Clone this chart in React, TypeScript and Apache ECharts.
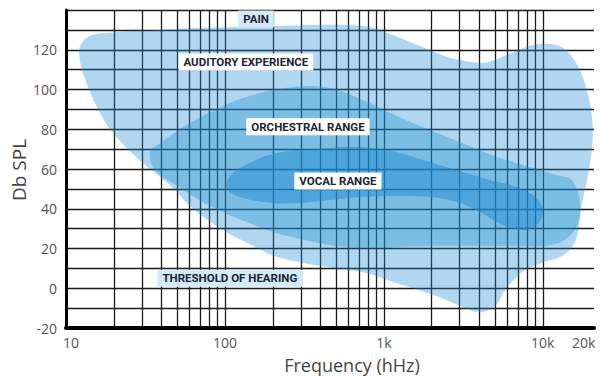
import React, { useEffect, useRef } from 'react';
import * as echarts from 'echarts';

// X axis (log) labels and vertical grid frequencies
const xLabelValues = [10, 100, 1000, 10000, 20000];
const gridFreqs = [10, 20, 30, 40, 50, 60, 70, 80, 90, 100, 200, 300, 400, 500, 600, 700, 800, 900,
  1000, 2000, 3000, 4000, 5000, 6000, 7000, 8000, 9000, 10000];
const yLabelValues = [-20, 0, 20, 40, 60, 80, 100, 120];
const xAxisTitle = 'Frequency (hHz)';
const yAxisTitle = 'Db SPL';

// Auditory experience outline (Hz, dB)
const auditoryFreq = [12.3, 14.2, 18.9, 29, 70, 222, 530, 820, 1170, 1680, 2490, 3470, 4320, 5600, 8280,
  10600, 13400, 16600, 19200, 20600, 20000, 17600, 16100, 13400, 10000, 7700, 5900, 5000, 4000, 3140,
  2250, 1260, 740, 460, 300, 200, 137, 103, 63, 45, 30.5, 19.8, 15.7, 13.2, 12.2];
const auditoryDb = [122, 127, 128.5, 129.5, 131, 132, 132.5, 131.5, 127, 122, 116.5, 114, 113.5, 116.5, 122,
  123, 121, 112, 98, 82, 64.5, 42, 24, 16.5, 13, 9, 0, -9, -12, -9.5,
  -4.5, 2, 8, 10.5, 13, 16.5, 23, 28, 40, 52, 63, 78, 91, 105, 115];

// Orchestral range outline
const orchestralFreq = [33.7, 39, 63, 130, 268, 458, 738, 1207, 1946, 3140, 5140, 8280, 12240, 15200, 17100,
  16600, 13750, 10300, 5370, 1946, 738, 457, 296, 200, 137, 80.5, 50, 36.3];
const orchestralDb = [68.6, 73, 84, 95.7, 101.3, 100.8, 94.7, 86.7, 79.6, 73, 66, 61, 57, 54.5, 44.4,
  32.3, 24.3, 21.3, 21.3, 21.3, 20.3, 21.8, 24.8, 28.3, 33.3, 41.4, 51.4, 59.5];

// Vocal range outline
const vocalFreq = [104, 124, 212, 457, 738, 1207, 1946, 3140, 4645, 6860, 9160, 10000, 9160, 7480, 5600,
  4018, 2877, 1946, 1207, 738, 457, 296, 200, 130, 104];
const vocalDb = [54.5, 60.5, 68, 70.6, 71, 68.6, 63.5, 58.5, 54.5, 51, 45.4, 38.4, 31.8, 29.3, 31.8,
  38.4, 43.4, 45.9, 46.4, 45.9, 44.4, 42.9, 42.9, 45.4, 49.4];

// Region labels
const labelTexts = ['PAIN', 'AUDITORY EXPERIENCE', 'ORCHESTRAL RANGE', 'VOCAL RANGE', 'THRESHOLD OF HEARING'];
const labelFreq = [157, 135.5, 333, 514, 107.4];
const labelDb = [135.5, 113.8, 81.2, 54, 5];

const highlighted = new Set(['PAIN', 'THRESHOLD OF HEARING']);

export default function App() {
  const ref = useRef<HTMLDivElement>(null);

  useEffect(() => {
    if (!ref.current) return;
    const chart = echarts.init(ref.current, undefined, { renderer: 'svg' });

    const shapeList = [
      { freq: auditoryFreq, db: auditoryDb, alpha: 0.35 },
      { freq: orchestralFreq, db: orchestralDb, alpha: 0.35 },
      { freq: vocalFreq, db: vocalDb, alpha: 0.48 },
    ];

    const fmtX = (v: number) => {
      const t = v >= 1000 ? `${Math.round(v / 1000)}k` : `${v}`;
      if (v === 10) return `{first|${t}}`;
      if (v === 20000) return `{last|${t}}`;
      return t;
    };

    const tickFont = { fontFamily: 'Open Sans', fontSize: 14, color: '#555' };
    const titleStyle = { fontFamily: 'Open Sans', fontSize: 18, fill: '#444', align: 'center', verticalAlign: 'middle' };

    chart.setOption({
      animation: false,
      grid: { left: 66, right: 6, top: 10, bottom: 49, outerBoundsMode: 'none', containLabel: false },
      graphic: [
        { type: 'text', x: 352, y: 365, style: { ...titleStyle, text: xAxisTitle } },
        { type: 'text', x: 19, y: 170, rotation: Math.PI / 2, style: { ...titleStyle, fontSize: 19, text: yAxisTitle } },
      ],
      xAxis: {
        type: 'log',
        logBase: 10,
        min: 10,
        max: 21000,
        axisLine: { show: true, onZero: false, lineStyle: { color: '#000', width: 4 } },
        axisTick: { show: false, customValues: gridFreqs },
        axisLabel: {
          customValues: xLabelValues,
          formatter: fmtX,
          ...tickFont,
          margin: 7,
          rich: {
            first: { ...tickFont, padding: [0, 0, 0, 10] },
            last: { ...tickFont, padding: [0, 14, 0, 0] },
          },
        },
        splitLine: { show: true, customValues: gridFreqs, lineStyle: { color: '#1a1a1a', width: 1.3 } },
      },
      yAxis: {
        type: 'value',
        min: -20,
        max: 140,
        interval: 10,
        axisLine: { show: true, onZero: false, lineStyle: { color: '#000', width: 3 } },
        axisTick: { show: false },
        axisLabel: {
          customValues: yLabelValues,
          ...tickFont,
          margin: 9,
        },
        splitLine: { show: true, lineStyle: { color: '#1a1a1a', width: 1.3 } },
      },
      series: [
        {
          type: 'custom',
          z: 3,
          data: shapeList.map((s) => [s.freq[0], s.db[0]]),
          renderItem: (params: any, api: any) => {
            const s = shapeList[params.dataIndex];
            const pts = s.freq.map((f, i) => api.coord([f, s.db[i]]));
            return {
              type: 'polygon',
              shape: { points: pts, smooth: 0.35 },
              style: { fill: `rgba(30,140,210,${s.alpha})` },
            };
          },
        },
        {
          type: 'custom',
          z: 5,
          data: labelFreq.map((f, i) => [f, labelDb[i]]),
          renderItem: (params: any, api: any) => {
            const i = params.dataIndex;
            const p = api.coord([labelFreq[i], labelDb[i]]);
            const text = labelTexts[i];
            return {
              type: 'text',
              x: p[0],
              y: p[1],
              style: {
                text,
                align: 'center',
                verticalAlign: 'middle',
                fill: '#1b2433',
                fontFamily: 'Roboto',
                fontWeight: 'bold',
                fontSize: 11.5,
                backgroundColor: highlighted.has(text) ? '#d3ebf8' : '#ffffff',
                padding: [3, 5, 2, 5],
              },
            };
          },
        },
      ],
    });

    return () => chart.dispose();
  }, []);

  return (
    <div
      ref={ref}
      style={{ position: 'fixed', left: 0, top: 0, width: 600, height: 377, background: '#fff' }}
    />
  );
}
